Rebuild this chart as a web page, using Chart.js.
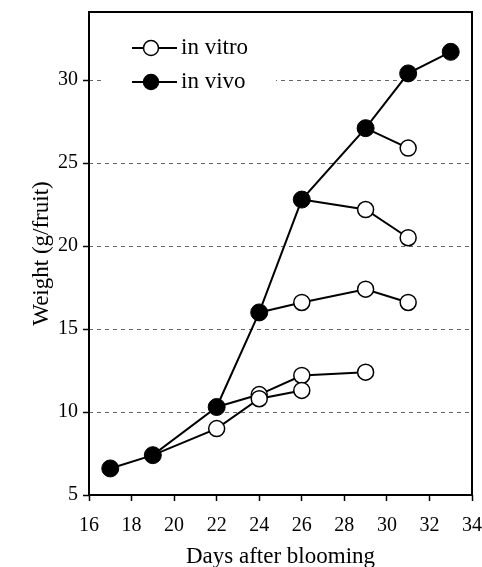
<!DOCTYPE html>
<html>
<head>
<meta charset="utf-8">
<script src="https://cdn.jsdelivr.net/npm/chart.js@4/dist/chart.umd.min.js"></script>
<style>
  html, body { margin: 0; padding: 0; background: #fff; }
  #wrap { width: 482px; height: 567px; }
</style>
</head>
<body>
<div id="wrap"><canvas id="chart" width="482" height="567"></canvas></div>
<script>
// ---------- data ----------
const vivoDays   = [17, 19, 22, 24, 26, 29, 31, 33];
const vivoWeight = [6.6, 7.4, 10.3, 16.0, 22.8, 27.1, 30.4, 31.7];

// in vitro branches, each starts from the in vivo point it was picked at
const vitroDaysA   = [19, 22, 24, 26];
const vitroWeightA = [7.4, 9.0, 10.8, 11.3];
const vitroDaysB   = [22, 24, 26, 29];
const vitroWeightB = [10.3, 11.05, 12.2, 12.4];
const vitroDaysC   = [24, 26, 29, 31];
const vitroWeightC = [16.0, 16.6, 17.4, 16.6];
const vitroDaysD   = [26, 29, 31];
const vitroWeightD = [22.8, 22.2, 20.5];
const vitroDaysE   = [29, 31];
const vitroWeightE = [27.1, 25.9];

const xTicks = [16, 18, 20, 22, 24, 26, 28, 30, 32, 34];
const yTicks = [5, 10, 15, 20, 25, 30];

const legendLabels = ["in vitro", "in vivo"];

const FONT = "'Liberation Serif', 'DejaVu Serif', serif";

function pts(xs, ys) {
    return xs.map((x, i) => ({ x: x, y: ys[i] }));
}

function vitroSet(xs, ys) {
    return {
        label: "in vitro",
        data: pts(xs, ys),
        showLine: true,
        borderColor: "#000",
        borderWidth: 2,
        pointBackgroundColor: "#fff",
        pointBorderColor: "#000",
        pointBorderWidth: 1.5,
        // first point belongs to the in vivo curve
        pointRadius: ctx => ctx.dataIndex === 0 ? 0 : 8,
        pointHoverRadius: ctx => ctx.dataIndex === 0 ? 0 : 8
    };
}

// ---------- legend inside the plot + frame ----------
const legendInside = {
    id: "legendInside",
    afterDatasetsDraw(chart) {
        const ctx = chart.ctx;
        ctx.save();
        ctx.fillStyle = "#fff";
        ctx.fillRect(104, 30, 172, 66);

        const rows = [48, 82];
        rows.forEach((y, i) => {
            ctx.strokeStyle = "#000";
            ctx.lineWidth = 2;
            ctx.beginPath();
            ctx.moveTo(132, y);
            ctx.lineTo(177, y);
            ctx.stroke();

            ctx.beginPath();
            ctx.arc(151, y, 7.5, 0, Math.PI * 2);
            ctx.fillStyle = i === 0 ? "#fff" : "#000";
            ctx.fill();
            ctx.lineWidth = 1.5;
            ctx.stroke();

            ctx.fillStyle = "#000";
            ctx.font = "23px " + FONT;
            ctx.textBaseline = "middle";
            ctx.textAlign = "left";
            ctx.fillText(legendLabels[i], 181, y);
        });
        ctx.restore();
    },
    afterDraw(chart) {
        const a = chart.chartArea;
        const ctx = chart.ctx;
        ctx.save();
        ctx.strokeStyle = "#000";
        ctx.lineWidth = 2;
        ctx.strokeRect(a.left, a.top, a.right - a.left, a.bottom - a.top);
        ctx.restore();
    }
};

new Chart(document.getElementById("chart"), {
    type: "scatter",
    data: {
        datasets: [
            {
                label: "in vivo",
                data: pts(vivoDays, vivoWeight),
                showLine: true,
                borderColor: "#000",
                borderWidth: 2,
                pointBackgroundColor: "#000",
                pointBorderColor: "#000",
                pointBorderWidth: 1,
                pointRadius: 8.5,
                pointHoverRadius: 8.5
            },
            vitroSet(vitroDaysA, vitroWeightA),
            vitroSet(vitroDaysB, vitroWeightB),
            vitroSet(vitroDaysC, vitroWeightC),
            vitroSet(vitroDaysD, vitroWeightD),
            vitroSet(vitroDaysE, vitroWeightE)
        ]
    },
    options: {
        responsive: false,
        animation: false,
        layout: { padding: { top: 12, right: 10, bottom: 0, left: 0 } },
        plugins: {
            legend: { display: false },
            tooltip: { enabled: false }
        },
        scales: {
            x: {
                type: "linear",
                min: 16,
                max: 34,
                afterBuildTicks: s => { s.ticks = xTicks.map(v => ({ value: v })); },
                afterFit: s => {
                    s.height = 72;
                    s.paddingLeft = 0;
                    s.paddingRight = 0;
                },
                border: { display: false },
                grid: {
                    drawOnChartArea: false,
                    color: "#000",
                    tickLength: 6,
                    tickWidth: 1.5
                },
                ticks: {
                    color: "#000",
                    padding: 13,
                    maxRotation: 0,
                    font: { family: FONT, size: 20 }
                },
                title: {
                    display: true,
                    text: "Days after blooming",
                    color: "#000",
                    padding: { top: 0, bottom: 0 },
                    font: { family: FONT, size: 23, lineHeight: 0.9 }
                }
            },
            y: {
                type: "linear",
                min: 5,
                max: 34.1,
                afterBuildTicks: s => { s.ticks = yTicks.map(v => ({ value: v })); },
                afterFit: s => {
                    s.width = 89;
                    s.paddingTop = 0;
                    s.paddingBottom = 0;
                },
                border: { display: false, dash: [4, 4] },
                grid: {
                    color: c => c.tick && c.tick.value === 5 ? "rgba(0,0,0,0)" : "#666",
                    lineWidth: 1,
                    tickColor: "#000",
                    tickLength: 6,
                    tickWidth: 1.5,
                    tickBorderDash: []
                },
                ticks: {
                    color: "#000",
                    padding: 5,
                    font: { family: FONT, size: 20 }
                },
                title: {
                    display: true,
                    text: "Weight (g/fruit)",
                    color: "#000",
                    padding: { top: 30, bottom: 0 },
                    font: { family: FONT, size: 23, lineHeight: 1.0 }
                }
            }
        }
    },
    plugins: [legendInside]
});
</script>
</body>
</html>
